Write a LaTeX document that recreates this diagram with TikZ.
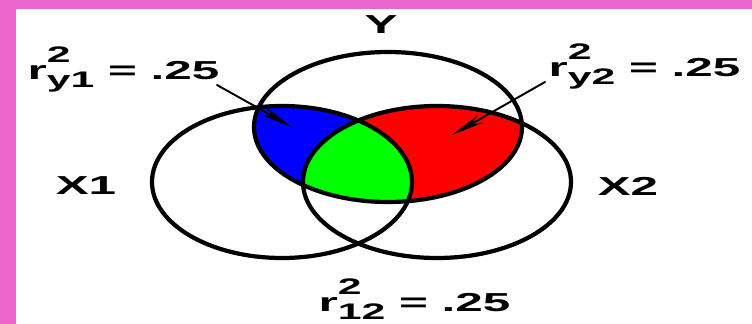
\documentclass[tikz,border=0pt]{standalone}
\usepackage{amsmath}
\usepackage{fontspec}
\setmainfont{Liberation Sans}
\usetikzlibrary{arrows.meta}
\definecolor{framepink}{RGB}{234,102,204}
\newcommand{\rcoef}[1]{r\rlap{\raisebox{0.66em}{\fontsize{12.8}{14}\selectfont 2}}\raisebox{-0.3em}{\fontsize{12.8}{14}\selectfont #1}}
\tikzset{
  ring/.style={line width=2.4pt},
  lbl/.style={inner sep=0pt,xscale=1.9,font=\fontsize{14.8}{16}\selectfont\bfseries},
  pointer/.style={line width=1.1pt,-{Stealth[length=6.5mm,width=1.8mm]}}
}
\begin{document}
\begin{tikzpicture}[x=0.02cm,y=-0.02cm,line cap=round]
\useasboundingbox (0,0) rectangle (752,324);
\fill[framepink] (0,0) rectangle (752,324);
\fill[white] (16,9) rectangle (752,324);
\def\Ycirc{(388,127) ellipse [x radius=134,y radius=75]}
\def\Xone{(282,182) ellipse [x radius=130,y radius=76]}
\def\Xtwo{(437,182) ellipse [x radius=134,y radius=76]}
\begin{scope}
\clip \Ycirc;
\fill[blue] \Xone;
\fill[red] \Xtwo;
\clip \Xone;
\fill[green] \Xtwo;
\end{scope}
\draw[ring] \Ycirc;
\draw[ring] \Xone;
\draw[ring] \Xtwo;
\node[lbl] (y) at (381,25) {Y};
\node[lbl] (x1) at (86,186) {X1};
\node[lbl] (x2) at (628,186) {X2};
\node[lbl,anchor=base west] (ry1) at (27,80) {\rcoef{y1} = .25};
\node[lbl,anchor=base west] (ry2) at (548,77) {\rcoef{y2} = .25};
\node[lbl,anchor=base west] (r12) at (318,312) {\rcoef{12} = .25};
% pointer ends
\coordinate (s1) at (217,85);
\coordinate (t1) at (292,127);
\coordinate (s2) at (545,82);
\coordinate (t2) at (452,135);
\draw[pointer] (s1) -- (t1);
\draw[pointer] (s2) -- (t2);
\end{tikzpicture}
\end{document}
